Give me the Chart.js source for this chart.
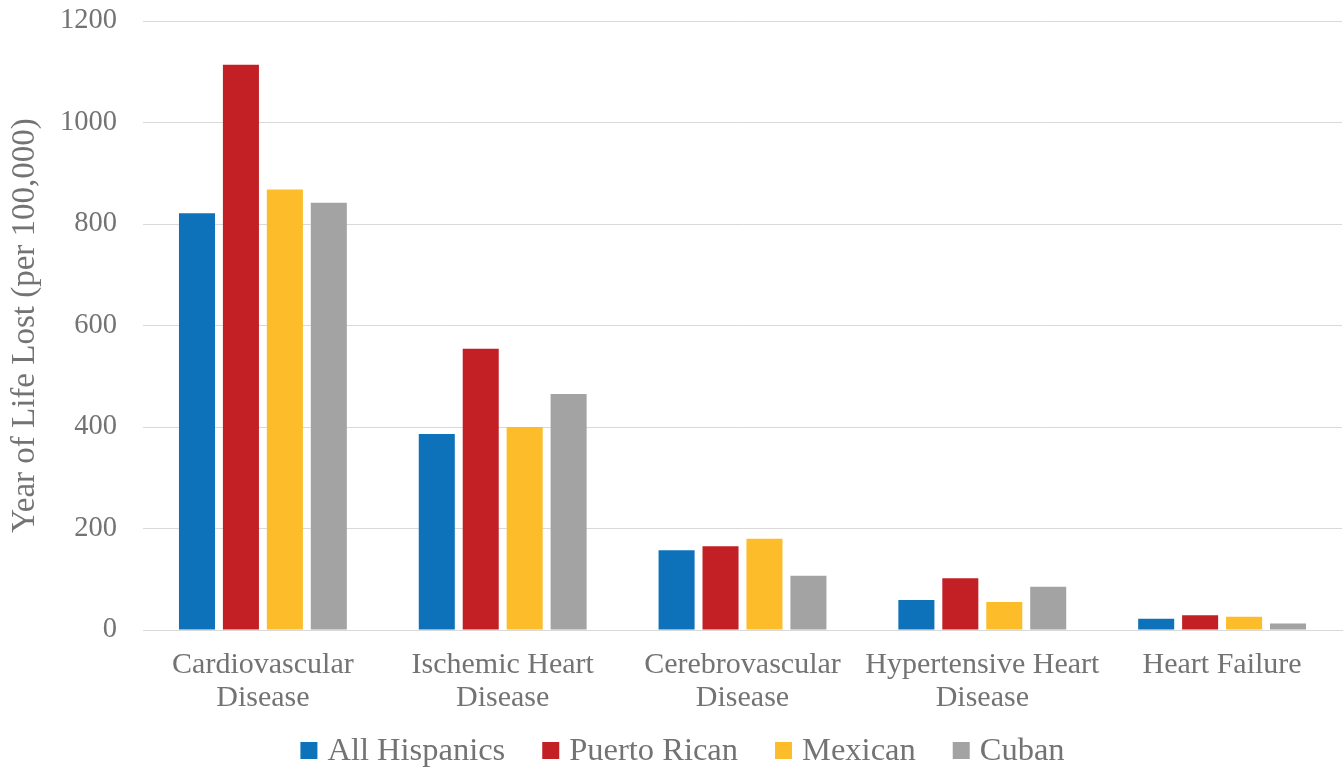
<!DOCTYPE html>
<html>
<head>
<meta charset="utf-8">
<script src="https://cdn.jsdelivr.net/npm/chart.js@4.4.1/dist/chart.umd.min.js"></script>
<style>
html,body{margin:0;padding:0;background:#fff;}
#wrap{width:1344px;height:767px;position:relative;}
</style>
</head>
<body>
<div id="wrap"><canvas id="c" width="1344" height="767"></canvas></div>
<script>
const categories = [["Cardiovascular","Disease"],["Ischemic Heart","Disease"],["Cerebrovascular","Disease"],["Hypertensive Heart","Disease"],["Heart Failure"]];
const seriesNames = ["All Hispanics","Puerto Rican","Mexican","Cuban"];
const allHispanics = [821, 386, 157, 59, 22];
const puertoRican = [1114, 554, 165, 102, 29];
const mexican = [868, 400, 180, 55, 26];
const cuban = [842, 465, 107, 85, 13];
const colors = ["#0E72BA","#C32026","#FDBD2A","#A3A3A3"];
const yTitle = "Year of Life Lost (per 100,000)";

const textColor = "#737373";
const fontFamily = "'Liberation Serif', 'Times New Roman', serif";
const values = [allHispanics, puertoRican, mexican, cuban];

// custom bottom legend drawn from the chart's datasets
const customLegend = {
  id: 'customLegend',
  afterDraw(chart) {
    const ctx = chart.ctx;
    const fontSize = 32.5;
    const box = 17, gapText = 10, gapItem = 37;
    ctx.save();
    ctx.font = fontSize + "px " + fontFamily;
    ctx.textBaseline = 'middle';
    const items = chart.data.datasets.map(d => ({label: d.label, color: d.backgroundColor, w: ctx.measureText(d.label).width}));
    let total = 0;
    items.forEach((it, i) => { total += box + gapText + it.w + (i < items.length - 1 ? gapItem : 0); });
    let x = 682.5 - total / 2;
    const cy = 750.5;
    items.forEach(it => {
      ctx.fillStyle = it.color;
      ctx.fillRect(x, cy - box / 2, box, box);
      x += box + gapText;
      ctx.fillStyle = textColor;
      ctx.textAlign = 'left';
      ctx.fillText(it.label, x, cy + 1);
      x += it.w + gapItem;
    });
    ctx.restore();
  }
};

new Chart(document.getElementById('c'), {
  type: 'bar',
  data: {
    labels: categories,
    datasets: seriesNames.map((n,i)=>({
      label: n,
      data: values[i],
      backgroundColor: colors[i],
      borderWidth: 0,
      categoryPercentage: 0.733,
      barPercentage: 0.82
    }))
  },
  plugins: [customLegend],
  options: {
    responsive: false,
    animation: false,
    layout: { padding: { top: 21, right: 2, left: 0, bottom: 54 } },
    plugins: {
      tooltip: { enabled: false },
      legend: { display: false }
    },
    scales: {
      x: {
        afterFit: (s) => { s.height = 83; s.paddingLeft = 0; s.paddingRight = 0; s.paddingTop = 0; s.paddingBottom = 0; },
        grid: { display: false, drawTicks: false },
        border: { display: true, color: '#d9d9d9', width: 1 },
        ticks: {
          color: textColor,
          font: { family: fontFamily, size: 30, lineHeight: 1.1 },
          maxRotation: 0, autoSkip: false, padding: 19
        }
      },
      y: {
        min: 0, max: 1200,
        afterFit: (s) => { s.width = 143; s.paddingTop = 0; s.paddingBottom = 0; },
        grid: { color: '#d9d9d9', lineWidth: 1, drawTicks: false },
        border: { display: false },
        ticks: {
          stepSize: 200,
          color: textColor,
          font: { family: fontFamily, size: 28.5 },
          padding: 26,
          callback: (v) => String(v)
        },
        title: {
          display: true,
          text: yTitle,
          color: textColor,
          font: { family: fontFamily, size: 33 },
          padding: { top: 6, bottom: 0 }
        }
      }
    }
  }
});
</script>
</body>
</html>
